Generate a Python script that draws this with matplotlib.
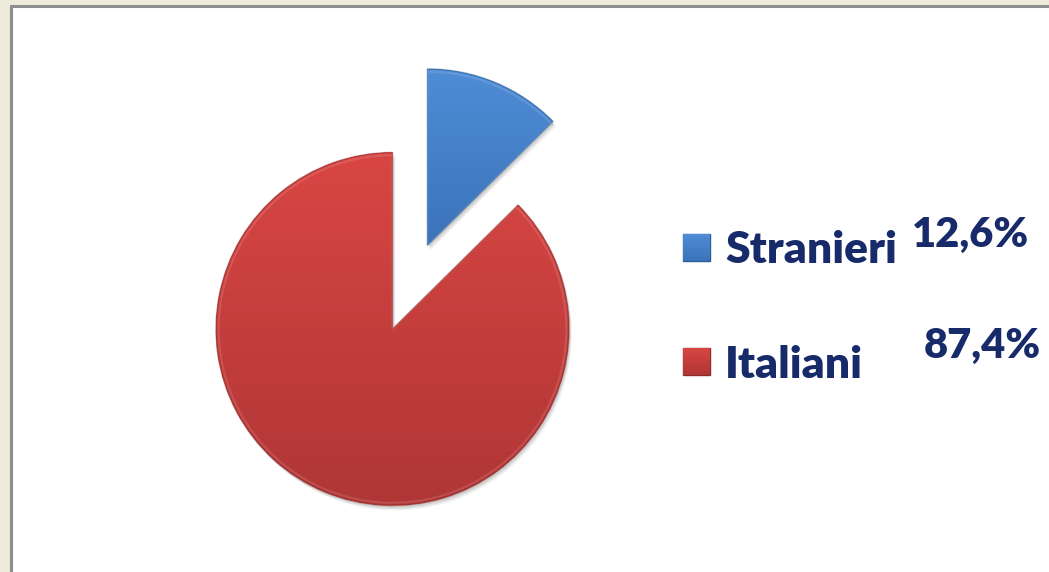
import matplotlib.pyplot as plt
import matplotlib.patches as mpatches
from matplotlib.colors import to_rgb
import numpy as np

# ── data ──────────────────────────────────────────────────────────────────────

labels  = ["Stranieri", "Italiani"]
shares  = [12.6, 87.4]
pct_txt = ["12,6%", "87,4%"]

# ── style ─────────────────────────────────────────────────────────────────────

BG      = "#EEEBDD"
NAVY    = "#172A6A"
TOPS    = ["#4F8DD6", "#D84643"]
BOTTOMS = ["#3B73B9", "#B03636"]
EDGES   = ["#2E5C96", "#8E2A2A"]

W, H = 1049, 572

fig = plt.figure(figsize=(W / 100, H / 100), dpi=100)
fig.patch.set_facecolor(BG)

# background axes in pixel units
bg = fig.add_axes([0, 0, 1, 1])
bg.set_xlim(0, W)
bg.set_ylim(0, H)
bg.axis("off")
bg.add_patch(mpatches.Rectangle((10.5, -10), W + 20, H - 5 + 10 - 0.5,
                                facecolor="white", edgecolor="#8E8E8E",
                                linewidth=2.2, zorder=0))


def gradient_fill(ax, patch, top, bottom, z):
    bb = patch.get_path().transformed(patch.get_patch_transform()).get_extents()
    c1 = np.array(to_rgb(top))
    c2 = np.array(to_rgb(bottom))
    t = np.linspace(0, 1, 256)[:, None]
    img = (c1 * (1 - t) + c2 * t)[:, None, :]
    im = ax.imshow(img, extent=[bb.x0, bb.x1, bb.y0, bb.y1], origin="upper",
                   aspect="auto", zorder=z, interpolation="bilinear")
    im.set_clip_path(patch)
    im.set_clip_on(True)


# ── pie ───────────────────────────────────────────────────────────────────────

cx, cy, r_px = 392.5, H - 329, 176.5
L = 1.6
half = L * r_px
ax = fig.add_axes([(cx - half) / W, (cy - half) / H, 2 * half / W, 2 * half / H])
ax.patch.set_alpha(0)

wedges, _ = ax.pie(shares, explode=[0.513, 0], startangle=90,
                   counterclock=False, radius=1,
                   wedgeprops=dict(linewidth=0))

for i, w in enumerate(wedges):
    # soft drop shadow
    for k, a in [(0.028, 0.05), (0.02, 0.07), (0.012, 0.09)]:
        sh = mpatches.Wedge((w.center[0] + k * 0.6, w.center[1] - k), w.r,
                            w.theta1, w.theta2, facecolor="black",
                            edgecolor="none", alpha=a, zorder=1)
        ax.add_patch(sh)
    w.set_facecolor(TOPS[i])
    w.set_zorder(2)
    gradient_fill(ax, w, TOPS[i], BOTTOMS[i], 3)
    # bevel: soft dark rim plus a faint light inner rim
    ax.add_patch(mpatches.Wedge(w.center, w.r, w.theta1, w.theta2,
                                facecolor="none", edgecolor=EDGES[i],
                                linewidth=1.0, alpha=0.55, zorder=4))
    ax.add_patch(mpatches.Wedge(w.center, w.r * 0.985, w.theta1, w.theta2,
                                facecolor="none", edgecolor="white",
                                linewidth=1.5, alpha=0.12, zorder=4))

ax.set_xlim(-L, L)
ax.set_ylim(-L, L)
ax.set_aspect("equal")
ax.axis("off")

# ── legend ────────────────────────────────────────────────────────────────────

leg_y   = [H - 263, H - 378]      # text baselines
mark_y  = [H - 247.5, H - 361.5]  # marker centres
pct_pos = [(970, H - 247), (982, H - 358)]
size = 27

for i, lab in enumerate(labels):
    sq = mpatches.Rectangle((683, mark_y[i] - size / 2), size, size,
                            facecolor=TOPS[i], edgecolor=EDGES[i],
                            linewidth=1.0, zorder=5)
    bg.add_patch(sq)
    gradient_fill(bg, sq, TOPS[i], BOTTOMS[i], 6)
    bg.text(725, leg_y[i], lab, fontsize=32, fontweight="heavy",
            family="Lato", color=NAVY, va="baseline", ha="left", zorder=7)
    bg.text(pct_pos[i][0], pct_pos[i][1], pct_txt[i], fontsize=30,
            fontweight="heavy", family="Lato", color=NAVY,
            va="baseline", ha="center", zorder=7)

bg.set_xlim(0, W)
bg.set_ylim(0, H)

fig.savefig("out.png", dpi=100, facecolor=BG)
